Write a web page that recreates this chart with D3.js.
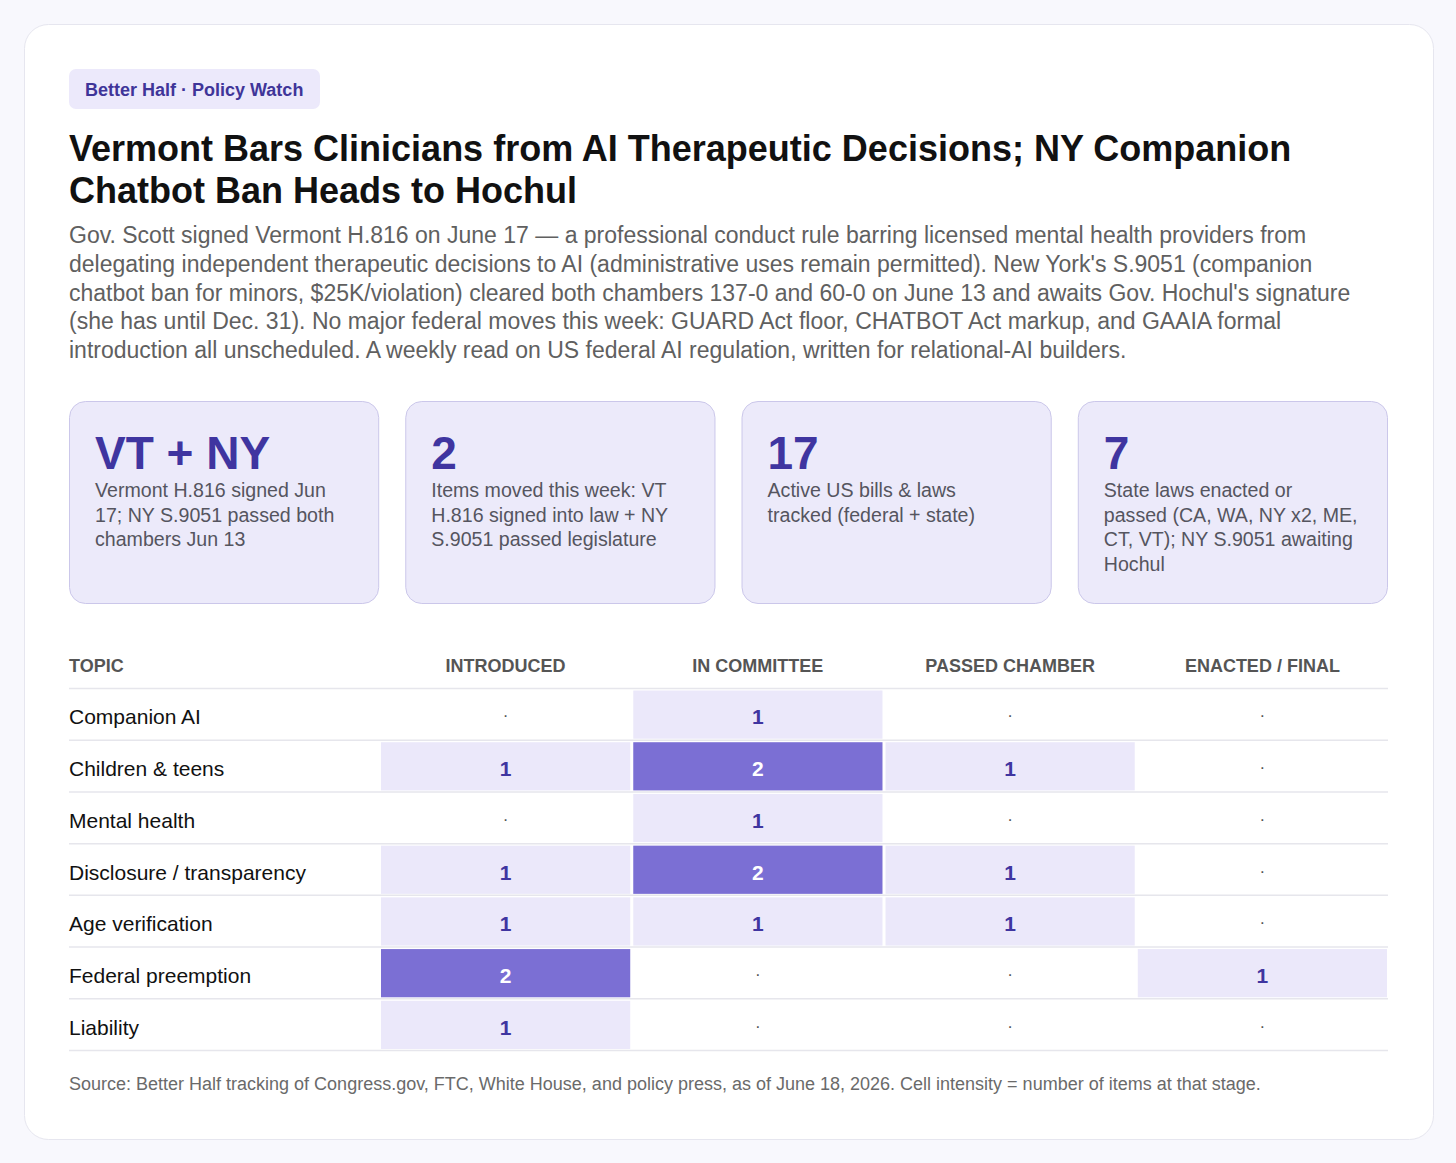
<!DOCTYPE html>
<html><head><meta charset="utf-8">
<script src="https://cdn.jsdelivr.net/npm/d3@7/dist/d3.min.js"></script>
<style>
html,body{margin:0;padding:0;background:#f8f8fd;}
svg{display:block;font-family:"Liberation Sans",Arial,sans-serif;}
</style></head>
<body>
<svg id="c" width="1456" height="1163"></svg>
<script>
const badge = "Better Half · Policy Watch";
const titleLines = ["Vermont Bars Clinicians from AI Therapeutic Decisions; NY Companion","Chatbot Ban Heads to Hochul"];
const subtitleLines = [
 "Gov. Scott signed Vermont H.816 on June 17 — a professional conduct rule barring licensed mental health providers from",
 "delegating independent therapeutic decisions to AI (administrative uses remain permitted). New York's S.9051 (companion",
 "chatbot ban for minors, $25K/violation) cleared both chambers 137-0 and 60-0 on June 13 and awaits Gov. Hochul's signature",
 "(she has until Dec. 31). No major federal moves this week: GUARD Act floor, CHATBOT Act markup, and GAAIA formal",
 "introduction all unscheduled. A weekly read on US federal AI regulation, written for relational-AI builders."
];
const kpiValues = ["VT + NY","2","17","7"];
const kpiLabels = [
 ["Vermont H.816 signed Jun","17; NY S.9051 passed both","chambers Jun 13"],
 ["Items moved this week: VT","H.816 signed into law + NY","S.9051 passed legislature"],
 ["Active US bills & laws","tracked (federal + state)"],
 ["State laws enacted or","passed (CA, WA, NY x2, ME,","CT, VT); NY S.9051 awaiting","Hochul"]
];
const topics = ["Companion AI","Children & teens","Mental health","Disclosure / transparency","Age verification","Federal preemption","Liability"];
const stages = ["INTRODUCED","IN COMMITTEE","PASSED CHAMBER","ENACTED / FINAL"];
const counts = [
 [0,1,0,0],
 [1,2,1,0],
 [0,1,0,0],
 [1,2,1,0],
 [1,1,1,0],
 [2,0,0,1],
 [1,0,0,0]
];
const footer = "Source: Better Half tracking of Congress.gov, FTC, White House, and policy press, as of June 18, 2026. Cell intensity = number of items at that stage.";

const svg = d3.select("#c");
// card
svg.append("rect").attr("x",24.5).attr("y",24.5).attr("width",1409).attr("height",1115)
  .attr("rx",24).attr("fill","#fff").attr("stroke","#e6e6ef");

// badge
svg.append("rect").attr("x",69).attr("y",69).attr("width",251).attr("height",40).attr("rx",7).attr("fill","#ece9fb");
svg.append("text").attr("x",85).attr("y",96).attr("font-size",18).attr("font-weight",700).attr("fill","#3f3599").text(badge);

// title
svg.append("g").selectAll("text").data(titleLines).join("text")
  .attr("x",69).attr("y",(d,i)=>161+i*42).attr("font-size",36).attr("font-weight",700).attr("fill","#111")
  .text(d=>d);

// subtitle
svg.append("g").selectAll("text").data(subtitleLines).join("text")
  .attr("x",69).attr("y",(d,i)=>243+i*28.8).attr("font-size",23).attr("fill","#606060")
  .text(d=>d);

// KPI cards
const kx = d3.scaleBand().domain(d3.range(kpiValues.length)).range([69,1388]).paddingInner(0.0775);
const kg = svg.append("g").selectAll("g").data(kpiValues).join("g")
  .attr("transform",(d,i)=>`translate(${kx(i)},401)`);
kg.append("rect").attr("x",0.5).attr("y",0.5).attr("width",kx.bandwidth()-1).attr("height",202).attr("rx",16)
  .attr("fill","#eceafa").attr("stroke","#cbc7ea");
kg.append("text").attr("x",26).attr("y",68).attr("font-size",46).attr("font-weight",700).attr("fill","#3f35a0").text(d=>d);
kg.each(function(d,i){
  d3.select(this).selectAll("text.l").data(kpiLabels[i]).join("text").attr("class","l")
    .attr("x",26).attr("y",(t,j)=>96+j*24.6).attr("font-size",19.6).attr("fill","#55555f").text(t=>t);
});

// table
const x = d3.scaleBand().domain(stages).range([381,1387]).paddingInner(0.012);
const y = d3.scaleBand().domain(topics).range([688.5,1050.5]);
const color = d3.scaleLinear().domain([1,2]).range(["#ebe8fa","#7b6fd4"]);

const t = svg.append("g");
t.append("text").attr("x",69).attr("y",672).attr("font-size",18).attr("font-weight",700).attr("fill","#555").text("TOPIC");
t.selectAll("text.h").data(stages).join("text").attr("class","h")
  .attr("x",d=>x(d)+x.bandwidth()/2).attr("y",672).attr("text-anchor","middle")
  .attr("font-size",18).attr("font-weight",700).attr("fill","#555").text(d=>d);
t.append("line").attr("x1",69).attr("x2",1388).attr("y1",688.5).attr("y2",688.5).attr("stroke","#e6e6ec").attr("stroke-width",1.5);

const rows = t.selectAll("g.r").data(topics).join("g").attr("class","r");
rows.append("line").attr("x1",69).attr("x2",1388)
  .attr("y1",d=>y(d)+y.bandwidth()).attr("y2",d=>y(d)+y.bandwidth())
  .attr("stroke","#e6e6ec").attr("stroke-width",1.5);
rows.append("text").attr("x",69).attr("y",d=>y(d)+y.bandwidth()/2+10)
  .attr("font-size",21).attr("fill","#111").text(d=>d);

const cells = [];
topics.forEach((tp,i)=>stages.forEach((s,j)=>cells.push({tp,s,v:counts[i][j]})));
t.selectAll("rect.cell").data(cells.filter(c=>c.v>0)).join("rect").attr("class","cell")
  .attr("x",d=>x(d.s)).attr("y",d=>y(d.tp)+2).attr("width",x.bandwidth()).attr("height",y.bandwidth()-3.5)
  .attr("fill",d=>color(d.v));
t.selectAll("text.v").data(cells).join("text").attr("class","v")
  .attr("x",d=>x(d.s)+x.bandwidth()/2).attr("y",d=>y(d.tp)+y.bandwidth()/2+(d.v>0?10:7))
  .attr("text-anchor","middle")
  .attr("font-size",d=>d.v>0?21:17).attr("font-weight",d=>d.v>0?700:400)
  .attr("fill",d=>d.v===0?"#555":(d.v>=2?"#fff":"#3f35a0"))
  .text(d=>d.v>0?d.v:"·");

// footer
svg.append("text").attr("x",69).attr("y",1090).attr("font-size",18).attr("fill","#6a6a6a").text(footer);
</script>
</body></html>
